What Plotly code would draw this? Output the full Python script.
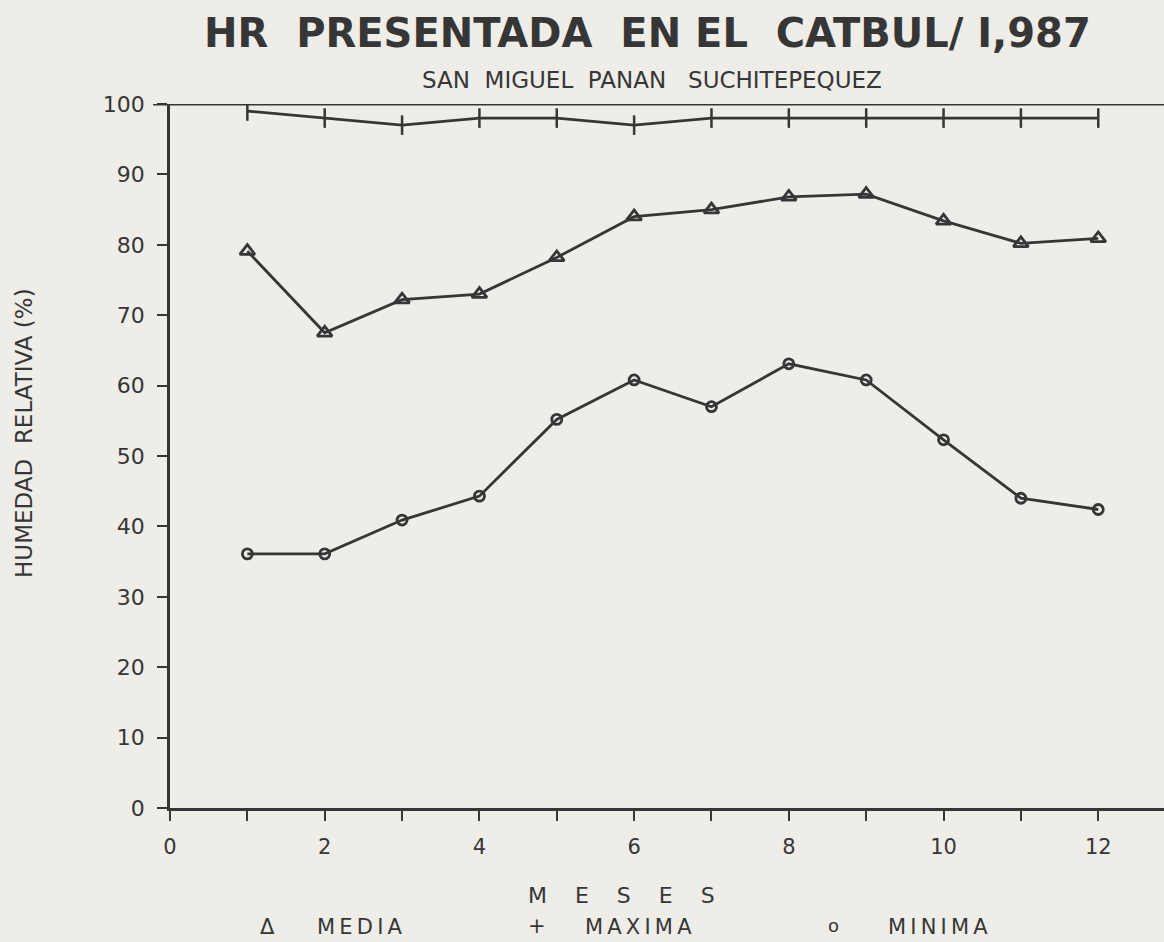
import plotly.graph_objects as go

meses = [1, 2, 3, 4, 5, 6, 7, 8, 9, 10, 11, 12]
maxima = [99, 98, 97, 98, 98, 97, 98, 98, 98, 98, 98, 98]
media = [79.1, 67.5, 72.2, 73, 78.2, 84, 85, 86.8, 87.2, 83.4, 80.2, 80.9]
minima = [36.1, 36.1, 40.9, 44.3, 55.2, 60.8, 57, 63.1, 60.8, 52.3, 44, 42.4]

ink = "#363636"
bg = "#eeede8"
font = "DejaVu Sans"
ts = "\u2009"

fig = go.Figure()
fig.add_trace(go.Scatter(x=meses, y=maxima, mode="lines+markers", name="MAXIMA",
                         line=dict(color=ink, width=2.8),
                         marker=dict(symbol="line-ns", size=14, line=dict(color=ink, width=2.5))))
fig.add_trace(go.Scatter(x=meses, y=media, mode="lines+markers", name="MEDIA",
                         line=dict(color=ink, width=2.8),
                         marker=dict(symbol="triangle-up-open", size=13, color=ink, line=dict(color=ink, width=2.8))))
fig.add_trace(go.Scatter(x=meses, y=minima, mode="lines+markers", name="MINIMA",
                         line=dict(color=ink, width=2.8),
                         marker=dict(symbol="circle-open", size=10, color=ink, line=dict(color=ink, width=2.8))))

fig.update_layout(
    width=1164, height=942,
    margin=dict(l=170, r=0, t=104, b=134),
    paper_bgcolor=bg, plot_bgcolor=bg,
    showlegend=False,
    font=dict(family=font, color=ink),
)
fig.update_xaxes(range=[0, 12.85], tickmode="array", tickvals=list(range(0, 13)),
                 ticktext=[str(i) if i % 2 == 0 else "" for i in range(0, 13)],
                 ticks="outside", ticklen=10, tickwidth=2.2, tickcolor=ink,
                 ticklabelstandoff=8,
                 showline=True, linecolor=ink, linewidth=2.8, mirror=False,
                 showgrid=False, zeroline=False,
                 tickfont=dict(size=21, color=ink, family=font))
fig.update_yaxes(range=[0, 100], tickvals=list(range(0, 101, 10)),
                 ticks="outside", ticklen=10, tickwidth=2.2, tickcolor=ink,
                 ticklabelstandoff=8,
                 showline=True, linecolor=ink, linewidth=2.8,
                 showgrid=False, zeroline=False,
                 tickfont=dict(size=22, color=ink, family=font))

# top border line
fig.add_shape(type="line", xref="paper", yref="y", x0=-0.017, x1=1, y0=100, y1=100,
              line=dict(color=ink, width=2.8))

def spaced(s):
    return ts.join(s)

ann = []
ann.append(dict(text="<b>HR  PRESENTADA  EN EL  CATBUL/ I,987</b>", x=647, y=33, size=40))
ann.append(dict(text="SAN  MIGUEL  PANAN   SUCHITEPEQUEZ", x=652, y=80, size=23))
ann.append(dict(text="M    E    S    E    S", x=621, y=895, size=22))
ann.append(dict(text="Δ", x=267, y=927, size=21))
ann.append(dict(text=spaced("MEDIA"), x=360, y=927, size=21))
ann.append(dict(text="+", x=537, y=926, size=21))
ann.append(dict(text=spaced("MAXIMA"), x=638, y=927, size=21))
ann.append(dict(text="o", x=833, y=926, size=18))
ann.append(dict(text=spaced("MINIMA"), x=938, y=927, size=21))
for a in ann:
    fig.add_annotation(text=a["text"], xref="paper", yref="paper",
                       x=(a["x"] - 170) / 994, y=(942 - 134 - a["y"]) / 704,
                       xanchor="center", yanchor="middle", showarrow=False,
                       font=dict(size=a["size"], color=ink, family=font))
fig.add_annotation(text="HUMEDAD  RELATIVA (%)", xref="paper", yref="paper",
                   x=(24 - 170) / 994, y=(808 - 433) / 704, textangle=-90,
                   xanchor="center", yanchor="middle", showarrow=False,
                   font=dict(size=23, color=ink, family=font))

fig.write_html("out.html")
